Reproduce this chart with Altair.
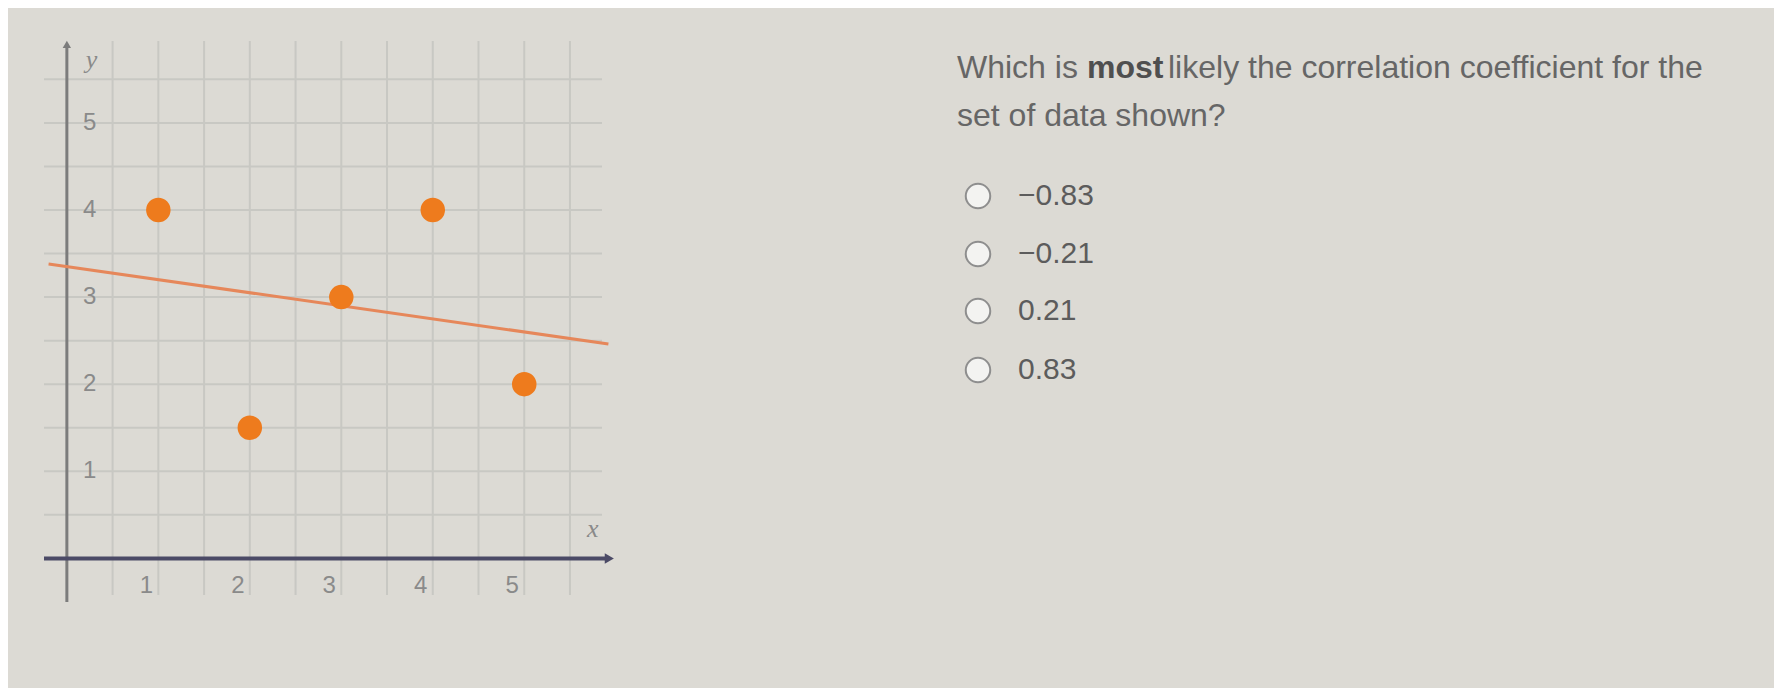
import altair as alt
import pandas as pd

# ---- data ----
point_x = [1, 2, 3, 4, 5]
point_y = [4, 1.5, 3, 4, 2]

x_tick_values = [1, 2, 3, 4, 5]
x_tick_labels = ["1", "2", "3", "4", "5"]
y_tick_values = [1, 2, 3, 4, 5]
y_tick_labels = ["1", "2", "3", "4", "5"]
grid_values = [0.5, 1, 1.5, 2, 2.5, 3, 3.5, 4, 4.5, 5, 5.5]

question_parts = ["Which is ", "most", "likely the correlation coefficient for the"]
question_line2 = "set of data shown?"
options = ["\u22120.83", "\u22120.21", "0.21", "0.83"]

X_DOMAIN = [-0.25, 5.85]
Y_DOMAIN = [-0.42, 5.94]
W, H = 558, 554

BG = "#dcdad4"
GRID = "#c8c8c3"
ORANGE = "#ee7b1d"
LINE_ORANGE = "#e6875a"
YAXIS = "#7c7c7c"
XAXIS = "#4b4a66"
LABEL = "#8a8a8a"
TEXT = "#666666"

pts = pd.DataFrame({"x": point_x, "y": point_y})

xs = alt.Scale(domain=X_DOMAIN, nice=False, zero=False)
ys = alt.Scale(domain=Y_DOMAIN, nice=False, zero=False)


def X(field):
    return alt.X(field, scale=xs, axis=None)


def Y(field):
    return alt.Y(field, scale=ys, axis=None)


# grid lines every half unit
vgrid_df = pd.DataFrame({"x": grid_values, "y": [Y_DOMAIN[0]] * len(grid_values),
                         "y2": [Y_DOMAIN[1]] * len(grid_values)})
hgrid_df = pd.DataFrame({"y": grid_values, "x": [X_DOMAIN[0]] * len(grid_values),
                         "x2": [X_DOMAIN[1]] * len(grid_values)})
vgrid = alt.Chart(vgrid_df).mark_rule(color=GRID, strokeWidth=2).encode(
    x=X("x:Q"), y=Y("y:Q"), y2="y2:Q")
hgrid = alt.Chart(hgrid_df).mark_rule(color=GRID, strokeWidth=2).encode(
    y=Y("y:Q"), x=X("x:Q"), x2="x2:Q")

# axis lines
yaxis_df = pd.DataFrame({"x": [0], "y": [-0.5], "y2": [5.88]})
yaxis = alt.Chart(yaxis_df).mark_rule(color=YAXIS, strokeWidth=3).encode(
    x=X("x:Q"), y=Y("y:Q"), y2="y2:Q")
xaxis_df = pd.DataFrame({"x": [X_DOMAIN[0]], "x2": [5.92], "y": [0]})
xaxis = alt.Chart(xaxis_df).mark_rule(color=XAXIS, strokeWidth=4).encode(
    x=X("x:Q"), x2="x2:Q", y=Y("y:Q"))
xarrow = alt.Chart(pd.DataFrame({"x": [5.93], "y": [0]})).mark_point(
    shape="triangle-right", filled=True, color=XAXIS, size=110, opacity=1).encode(
    x=X("x:Q"), y=Y("y:Q"))
yarrow = alt.Chart(pd.DataFrame({"x": [0], "y": [5.9]})).mark_point(
    shape="triangle-up", filled=True, color=YAXIS, size=70, opacity=1).encode(
    x=X("x:Q"), y=Y("y:Q"))

# tick labels
xlab = alt.Chart(pd.DataFrame({"x": x_tick_values, "t": x_tick_labels, "y": [-0.32] * 5})).mark_text(
    font="Liberation Sans", fontSize=24, color=LABEL, dx=-12, baseline="middle").encode(
    x=X("x:Q"), y=Y("y:Q"), text="t:N")
ylab = alt.Chart(pd.DataFrame({"y": y_tick_values, "t": y_tick_labels, "x": [0.25] * 5})).mark_text(
    font="Liberation Sans", fontSize=24, color=LABEL, baseline="middle").encode(
    x=X("x:Q"), y=Y("y:Q"), text="t:N")
axis_names = alt.Chart(pd.DataFrame({"x": [0.27, 5.75], "y": [5.72, 0.34], "t": ["y", "x"]})).mark_text(
    font="Liberation Serif", fontStyle="italic", fontSize=26, color=LABEL, baseline="middle").encode(
    x=X("x:Q"), y=Y("y:Q"), text="t:N")

base = alt.Chart(pts)
trend = base.transform_regression("x", "y", extent=[-0.2, 5.92]).mark_line(
    color=LINE_ORANGE, strokeWidth=3).encode(x=X("x:Q"), y=Y("y:Q"))

dots = base.mark_circle(size=600, color=ORANGE, opacity=1).encode(x=X("x:Q"), y=Y("y:Q"))

plot = alt.layer(vgrid, hgrid, yaxis, xaxis, xarrow, yarrow, trend, dots, xlab, ylab,
                 axis_names).properties(width=W, height=H)

# question panel
q_df = pd.DataFrame({"t": [question_parts[0], question_parts[2], question_line2],
                     "px": [355, 566, 355], "py": [27, 27, 75]})
q_text = alt.Chart(q_df).mark_text(font="Liberation Sans", fontSize=32, color=TEXT,
                                   align="left", baseline="middle").encode(
    x=alt.X("px:Q", scale=None), y=alt.Y("py:Q", scale=None), text="t:N")
q_bold = alt.Chart(pd.DataFrame({"t": [question_parts[1]], "px": [485], "py": [27]})).mark_text(
    font="Liberation Sans", fontSize=32, fontWeight="bold", color="#4f4f4f",
    align="left", baseline="middle").encode(
    x=alt.X("px:Q", scale=None), y=alt.Y("py:Q", scale=None), text="t:N")

opt_df = pd.DataFrame({"t": options, "py": [155, 213, 270, 329], "cx": [376] * 4, "tx": [416] * 4})
radios = alt.Chart(opt_df).mark_point(shape="circle", filled=True, fill="#f3f3f1",
                                      stroke="#8e8e8e", strokeWidth=2, size=600, opacity=1).encode(
    x=alt.X("cx:Q", scale=None), y=alt.Y("py:Q", scale=None))
opt_text = alt.Chart(opt_df).mark_text(font="Liberation Sans", fontSize=30, color="#5c5c5c",
                                       align="left", baseline="middle").encode(
    x=alt.X("tx:Q", scale=None), y=alt.Y("py:Q", scale=None), text="t:N")

panel = alt.layer(q_text, q_bold, radios, opt_text).properties(width=1160, height=H)

chart = alt.hconcat(plot, panel, spacing=0, bounds="flush").properties(
    padding={"left": 34, "top": 32, "right": 12, "bottom": 84},
    background=BG,
).configure_view(stroke=None)

chart.save("out.html", embed_options={"renderer": "svg", "actions": False})
